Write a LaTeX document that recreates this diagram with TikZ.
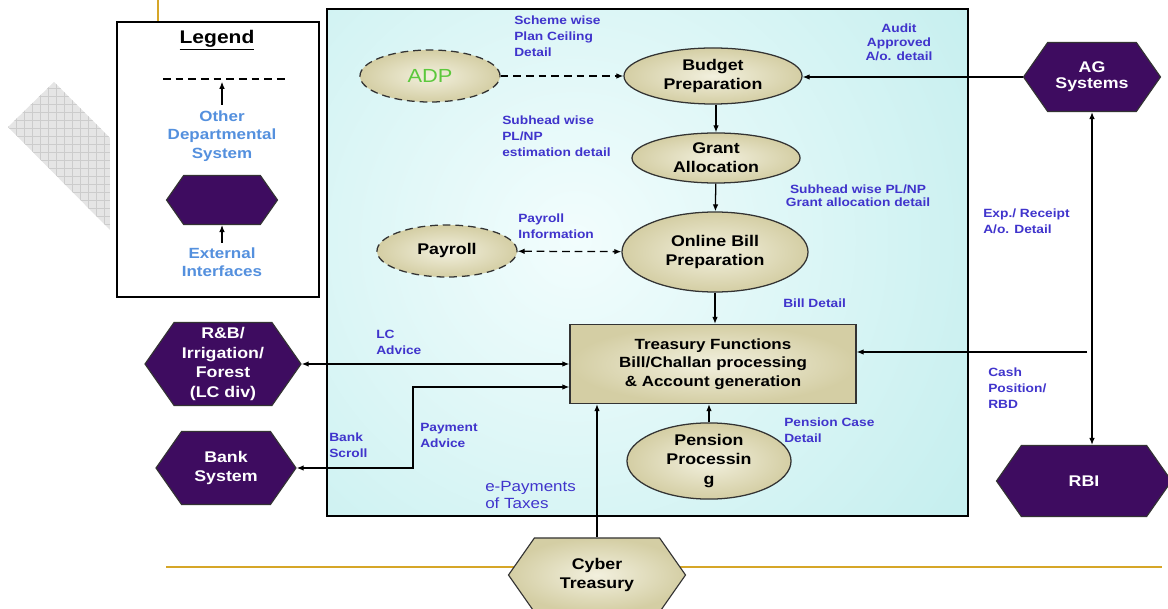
\documentclass[tikz,border=0pt]{standalone}
\usepackage{fontspec}
\setmainfont{Liberation Sans}[FakeStretch=1.15]
\usetikzlibrary{shapes.geometric,shapes.symbols,arrows.meta}

\definecolor{cyanbg}{RGB}{189,236,236}
\definecolor{cyanlight}{RGB}{242,253,253}
\definecolor{tanfill}{RGB}{212,206,164}
\definecolor{tanlight}{RGB}{242,240,222}
\definecolor{hexpurple}{RGB}{62,12,96}
\definecolor{lblblue}{RGB}{64,52,204}
\definecolor{legblue}{RGB}{84,144,222}
\definecolor{adpgreen}{RGB}{92,200,60}
\definecolor{goldline}{RGB}{214,166,40}

\tikzset{
	longdash/.style={dash pattern=on 5.5pt off 3.5pt},
	proc/.style={ellipse, draw=black!80, line width=0.9pt, inner sep=0pt,
		inner color=tanlight, outer color=tanfill, align=center,
		font=\fontsize{11}{13.5}\selectfont\bfseries},
	other/.style={proc, longdash},
	iface/.style={signal, signal to=east and west, signal pointer angle=110,
		draw=black!80, line width=0.8pt, fill=hexpurple, text=white, inner sep=0pt,
		align=center, font=\fontsize{11}{13}\selectfont\bfseries},
	leg/.style={align=center, inner sep=0pt, text=legblue,
		font=\fontsize{10.5}{13}\selectfont\bfseries},
	lbl/.style={anchor=west, align=left, inner sep=0pt, text=lblblue,
		font=\fontsize{8.5}{11.3}\selectfont\bfseries},
	flow/.style={line width=0.9pt},
}

\begin{document}
\begin{tikzpicture}[x=0.025cm, y=-0.025cm, >={Latex[length=5pt,width=4pt]}]

	\useasboundingbox (0,0) rectangle (1168,609);

	% gold rules
	\draw[goldline, line width=1.2pt] (158,0) -- (158,22);
	\draw[goldline, line width=1.2pt] (166,567) -- (1162,567);

	% grey hatched corner
	\begin{scope}
		\clip (8,127) -- (54,82) -- (110,138) -- (110,230) -- cycle;
		\fill[gray!20] (0,80) rectangle (110,232);
		\draw[gray!40, line width=0.3pt, step=0.2cm] (0,80) grid (110,232);
	\end{scope}

	% legend
	\draw[line width=1pt, fill=white] (117,22) rectangle (319,297);
	\node (legend) at (217,40) {\fontsize{13}{15}\selectfont\bfseries\underline{Legend}};
	\coordinate (dash1) at (163,79);
	\coordinate (dash2) at (285,79);
	\draw[longdash, line width=0.8pt] (dash1) -- (dash2);
	\node[leg] (ods) at (222,136) {Other\\Departmental\\System};
	\draw[->, line width=0.8pt, shorten <=4pt, shorten >=2pt] (ods.north) -- (ods.north |- dash1);
	\node[iface, minimum width=2.775cm, minimum height=1.225cm] (lhex) at (222,200) {};
	\node[leg] (ext) at (222,262) {External\\Interfaces};
	\draw[->, line width=0.8pt, shorten <=3pt] (ext.north) -- (lhex.south);

	% main panel
	\fill[cyanbg] (327,9) rectangle (968,516);
	\begin{scope}
		\clip (327,9) rectangle (968,516);
		\shade[inner color=cyanlight, outer color=cyanbg] (575,240) circle (560);
	\end{scope}
	\draw[line width=1pt] (327,9) rectangle (968,516);

	% processes
	\node[other, minimum width=3.5cm, minimum height=1.3cm,
		font=\fontsize{13.5}{15}\selectfont, text=adpgreen] (adp) at (430,76) {ADP};
	\node[proc, minimum width=4.45cm, minimum height=1.4cm] (budget) at (713,76) {Budget\\Preparation};
	\node[proc, minimum width=4.2cm, minimum height=1.25cm] (grant) at (716,158) {Grant\\Allocation};
	\node[proc, minimum width=4.65cm, minimum height=2cm] (bill) at (715,252) {Online Bill\\Preparation};
	\node[other, minimum width=3.5cm, minimum height=1.3cm] (payroll) at (447,251) {Payroll};
	\node[draw=black!80, line width=0.9pt, inner color=tanlight, outer color=tanfill,
		minimum width=7.15cm, minimum height=1.975cm, align=center,
		font=\fontsize{10.5}{13}\selectfont\bfseries] (treasury) at (713,364)
		{Treasury Functions\\Bill/Challan processing\\\& Account generation};
	\node[proc, minimum width=4.1cm, minimum height=1.5cm,
		font=\fontsize{11}{14}\selectfont\bfseries] (pension) at (709,461) {Pension\\Processin\\g};

	% external interfaces
	\node[iface, minimum width=3.425cm, minimum height=1.725cm,
		font=\fontsize{11}{11.5}\selectfont\bfseries] (ag) at (1092,77) {AG\\Systems};
	\node[iface, minimum width=4.375cm, minimum height=1.775cm] (rbi) at (1084,481) {RBI};
	\node[iface, minimum width=3.9cm, minimum height=2.075cm,
		font=\fontsize{11}{14}\selectfont\bfseries] (rb) at (223,364) {R\&B/\\Irrigation/\\Forest\\(LC div)};
	\node[iface, minimum width=3.5cm, minimum height=1.825cm] (bank) at (226,468) {Bank\\System};
	\node[iface, minimum width=4.425cm, minimum height=1.85cm, fill=none,
		inner color=tanlight, outer color=tanfill, text=black] (cyber) at (597,575) {Cyber\\Treasury};

	% connectors
	\draw[flow, ->, longdash] (adp) -- (budget);
	\draw[flow, ->] (ag.west) -- (ag.west -| budget.east);
	\draw[flow, ->] (budget.south -| grant.north) -- (grant.north);
	\draw[flow, ->] (grant) -- (bill);
	\draw[flow, <->, longdash] (payroll) -- (bill);
	\draw[flow, ->] (bill.south) -- (bill.south |- treasury.north);
	\draw[flow, ->] (pension.north) -- (pension.north |- treasury.south);
	\draw[flow, ->] (cyber.north) -- (cyber.north |- treasury.south);
	\draw[flow, <->] (rb.east) -- (rb.east -| treasury.west);
	\coordinate (bk) at (413,387);
	\draw[flow, <->] (bank.east) -| (bk) -- (bk -| treasury.west);
	\draw[flow, <->] (ag.south) -- (ag.south |- rbi.north);
	\coordinate (cp) at (1087,352);
	\draw[flow, ->] (cp) -- (cp -| treasury.east);

	% flow labels
	\node[lbl] (lscheme) at (514,36) {Scheme wise\\Plan Ceiling\\Detail};
	\node[lbl, anchor=center, align=center, font=\fontsize{8.5}{10}\selectfont\bfseries] (laudit) at (899,42) {Audit\\Approved\\A/o. detail};
	\node[lbl] (lest) at (502,136) {Subhead wise\\PL/NP\\estimation detail};
	\node[lbl, anchor=center, align=center, font=\fontsize{8.5}{9.5}\selectfont\bfseries] (lgrant) at (858,196) {Subhead wise PL/NP\\Grant allocation detail};
	\node[lbl] (lpay) at (518,226) {Payroll\\Information};
	\node[lbl] (lbill) at (783,303) {Bill Detail};
	\node[lbl] (llc) at (376,342) {LC\\Advice};
	\node[lbl] (lscroll) at (329,445) {Bank\\Scroll};
	\node[lbl] (lpadv) at (420,435) {Payment\\Advice};
	\node[lbl] (lpens) at (784,430) {Pension Case\\Detail};
	\node[lbl, font=\fontsize{10.5}{12.5}\selectfont] (ltax) at (485,495) {e-Payments\\of Taxes};
	\node[lbl] (lexp) at (983,221) {Exp./ Receipt\\A/o. Detail};
	\node[lbl] (lcash) at (988,388) {Cash\\Position/\\RBD};

\end{tikzpicture}
\end{document}
